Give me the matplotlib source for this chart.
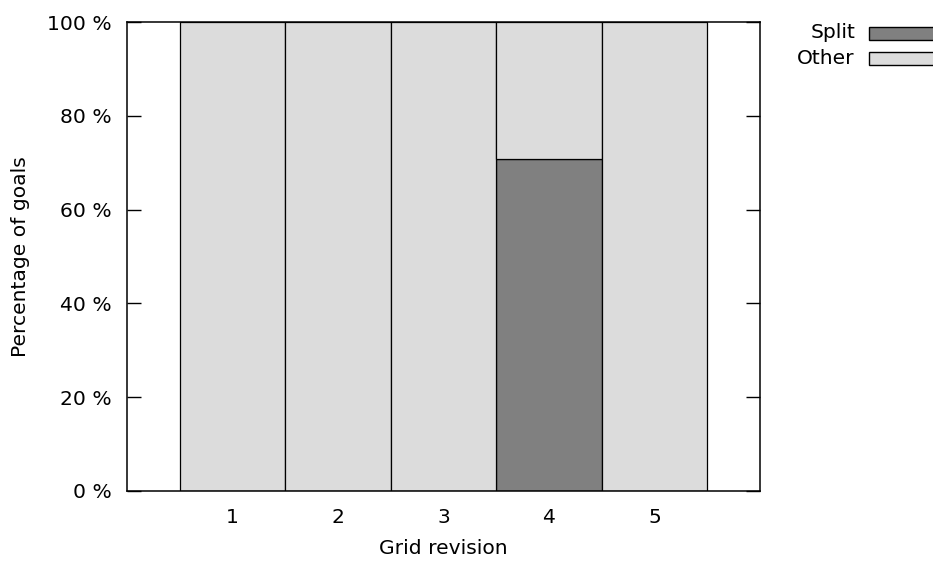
import numpy as np
import matplotlib
matplotlib.use("Agg")
import matplotlib.pyplot as plt
from matplotlib.patches import Rectangle

# data
revisions = [1, 2, 3, 4, 5]
split_pct = [0.0, 0.0, 0.0, 70.7, 0.0]
other_pct = [100.0, 100.0, 100.0, 29.3, 100.0]
series_names = ["Split", "Other"]
series_colors = ["#808080", "#dcdcdc"]
ytick_vals = [0, 20, 40, 60, 80, 100]

W, H = 933, 562
fig = plt.figure(figsize=(W / 100, H / 100), dpi=100)
ax = fig.add_axes([127 / W, 1 - 491 / H, (760 - 127) / W, (491 - 22) / H])

fs = 14.6
ax.bar(revisions, split_pct, width=1.0, color=series_colors[0],
       edgecolor="black", linewidth=0.9)
ax.bar(revisions, other_pct, width=1.0, bottom=split_pct, color=series_colors[1],
       edgecolor="black", linewidth=0.9)

ax.set_xlim(0, 6)
ax.set_ylim(0, 100)
ax.set_xticks(revisions)
ax.set_xticklabels([str(r) for r in revisions], fontsize=fs)
ax.set_yticks(ytick_vals)
ax.set_yticklabels([f"{v} %" for v in ytick_vals], fontsize=fs)
ax.tick_params(axis="y", direction="in", length=10, width=1, right=True, pad=11)
# bottom ticks sit behind the bars in the original, so they don't show
ax.tick_params(axis="x", direction="in", length=0, top=False, pad=12)
for s in ax.spines.values():
    s.set_linewidth(1.1)

ax.set_xlabel("Grid revision", fontsize=fs, labelpad=9)
ax.set_ylabel("Percentage of goals", fontsize=fs, labelpad=12)

# legend outside the axes, gnuplot style
legend_rows = [33, 58]
for name, col, yc in zip(series_names, series_colors, legend_rows):
    fig.text(855 / W, 1 - yc / H, name, ha="right", va="center", fontsize=fs)
    fig.patches.append(Rectangle((869 / W, 1 - (yc + 6.5) / H), 80 / W, 13 / H,
                                 transform=fig.transFigure, facecolor=col,
                                 edgecolor="black", linewidth=1.0, clip_on=False))

fig.savefig("out.png", dpi=100)
